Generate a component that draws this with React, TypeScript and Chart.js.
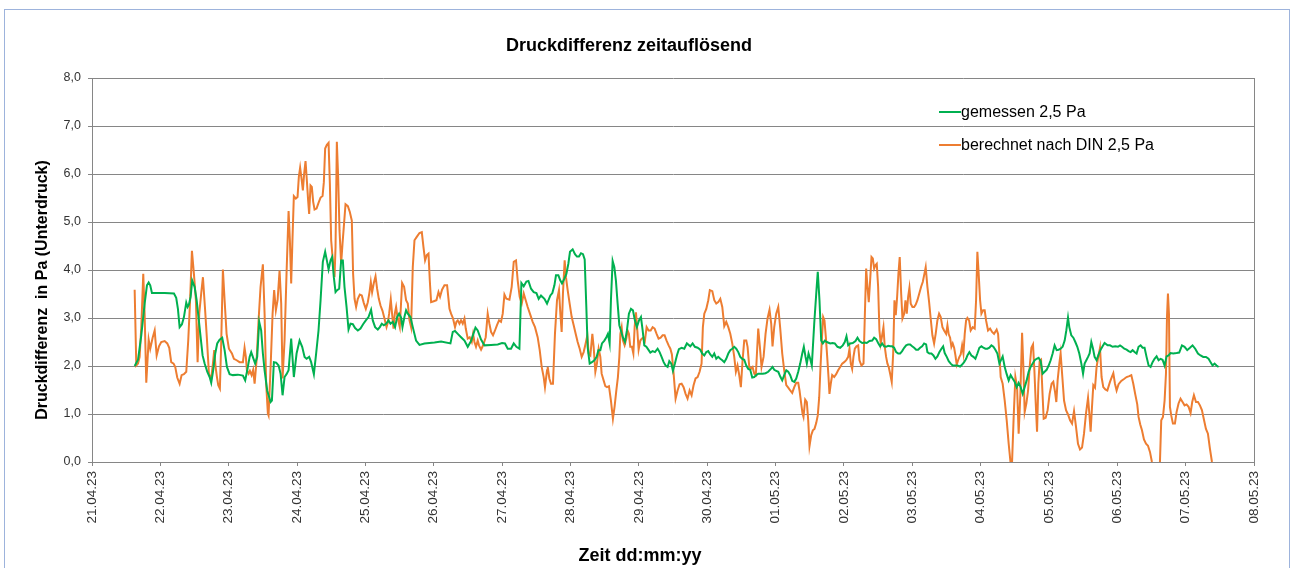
import React, { useEffect, useRef } from 'react';
import { Chart, registerables } from 'chart.js';

Chart.register(...registerables);

const FONT = "'Liberation Sans', Arial, Helvetica, sans-serif";

const chartTitle = 'Druckdifferenz zeitauflösend';
const yAxisTitle = 'Druckdifferenz  in Pa (Unterdruck)';
const xAxisTitle = 'Zeit dd:mm:yy';
const seriesNames = ['gemessen 2,5 Pa', 'berechnet nach DIN 2,5 Pa'];
const seriesColors = ['#00b050', '#ed7d31'];

const xTickLabels = [
  '21.04.23', '22.04.23', '23.04.23', '24.04.23', '25.04.23', '26.04.23',
  '27.04.23', '28.04.23', '29.04.23', '30.04.23', '01.05.23', '02.05.23',
  '03.05.23', '04.05.23', '05.05.23', '06.05.23', '07.05.23', '08.05.23',
];
const yTickLabels = ['0,0', '1,0', '2,0', '3,0', '4,0', '5,0', '6,0', '7,0', '8,0'];

// time in days since 21.04.23 00:00
const gemessenTage = [
  0.624, 0.673, 0.721, 0.770, 0.804, 0.829, 0.852, 0.877, 0.965, 1.063,
  1.199, 1.232, 1.257, 1.282, 1.316, 1.345, 1.379, 1.399, 1.418, 1.443,
  1.466, 1.501, 1.531, 1.560, 1.589, 1.618, 1.648, 1.686, 1.721, 1.744,
  1.773, 1.803, 1.832, 1.867, 1.905, 1.940, 1.974, 2.013, 2.061, 2.135,
  2.208, 2.241, 2.270, 2.306, 2.329, 2.358, 2.387, 2.417, 2.446, 2.475,
  2.500, 2.525, 2.563,
  2.613, 2.632, 2.661, 2.694, 2.730, 2.759, 2.788, 2.817, 2.846, 2.876,
  2.914, 2.953, 2.993, 3.037, 3.075, 3.110, 3.139, 3.177, 3.206, 3.246,
  3.279, 3.314, 3.344, 3.377, 3.411, 3.436, 3.461, 3.490, 3.513, 3.538,
  3.563, 3.586, 3.616, 3.645, 3.670, 3.694, 3.724, 3.753, 3.782, 3.816,
  3.849, 3.889, 3.928, 3.966, 4.006, 4.045, 4.083, 4.108, 4.142, 4.181,
  4.211, 4.240, 4.269, 4.303, 4.338, 4.367, 4.401, 4.434, 4.464, 4.493,
  4.522, 4.542, 4.572, 4.595, 4.620,
  4.659, 4.693, 4.741, 4.791, 4.864, 5.010, 5.107, 5.244, 5.278, 5.311,
  5.351, 5.399, 5.449, 5.497, 5.545, 5.610, 5.643, 5.692, 5.741, 5.838,
  5.936, 5.999, 6.042, 6.082, 6.130, 6.170, 6.209, 6.253, 6.282, 6.316,
  6.355, 6.385, 6.423, 6.462, 6.502, 6.535, 6.569, 6.619, 6.657,
  6.706, 6.735, 6.765, 6.788, 6.823, 6.852, 6.876, 6.911, 6.940, 6.969,
  6.993, 7.032, 7.066, 7.095, 7.124, 7.154, 7.183, 7.208, 7.232, 7.251,
  7.281, 7.314, 7.349, 7.383, 7.408, 7.437, 7.461, 7.496, 7.525, 7.548,
  7.573, 7.592, 7.617, 7.642, 7.665, 7.690, 7.715, 7.738, 7.768, 7.797,
  7.826, 7.855, 7.885, 7.914, 7.943, 7.972, 8.002, 8.031, 8.056, 8.080,
  8.110, 8.139, 8.168, 8.202, 8.236, 8.275, 8.304, 8.333, 8.363, 8.392,
  8.421, 8.446, 8.475, 8.499, 8.528, 8.557, 8.586, 8.626, 8.665, 8.703,
  8.753, 8.787, 8.820, 8.860, 8.899, 8.928, 8.958, 8.987, 9.016, 9.045,
  9.075, 9.104, 9.133, 9.162, 9.192, 9.221, 9.250, 9.279, 9.309, 9.338,
  9.367, 9.396, 9.425, 9.455, 9.484, 9.513, 9.542, 9.572, 9.601, 9.630,
  9.659, 9.689, 9.718, 9.747, 9.776, 9.814, 9.854, 9.893, 9.932, 9.956,
  9.981, 10.010, 10.040, 10.069, 10.098, 10.127, 10.157, 10.186, 10.215, 10.244,
  10.274, 10.303, 10.332, 10.361, 10.391, 10.414, 10.439, 10.458, 10.483, 10.507,
  10.531, 10.566, 10.599, 10.618, 10.643, 10.668, 10.692, 10.721, 10.750,
  10.800, 10.833, 10.867, 10.906, 10.946, 10.984, 11.013, 11.038, 11.063, 11.092,
  11.130, 11.170, 11.199, 11.228, 11.268, 11.306, 11.335, 11.374, 11.414, 11.443,
  11.472, 11.501, 11.531, 11.560, 11.589, 11.618, 11.648, 11.677, 11.706, 11.735,
  11.765, 11.794, 11.823, 11.852, 11.882, 11.911, 11.940, 11.969, 11.999, 12.028,
  12.057, 12.086, 12.115, 12.145, 12.174, 12.203, 12.222, 12.251, 12.281, 12.310,
  12.339, 12.368, 12.398, 12.427, 12.452, 12.475, 12.505, 12.534, 12.563, 12.592,
  12.621, 12.661, 12.700, 12.730, 12.759, 12.788,
  12.807, 12.836, 12.866, 12.895, 12.924, 12.953, 12.982, 13.012, 13.041, 13.070,
  13.099, 13.129, 13.158, 13.187, 13.216, 13.246, 13.275, 13.323, 13.353, 13.382,
  13.411, 13.440, 13.469, 13.499, 13.528, 13.557, 13.586, 13.616, 13.645, 13.674,
  13.703, 13.732, 13.762, 13.791, 13.820, 13.849, 13.879, 13.908, 13.937, 13.966,
  13.996, 14.025, 14.054, 14.083, 14.113, 14.142, 14.171, 14.200, 14.230, 14.254,
  14.279, 14.298, 14.327, 14.357, 14.386, 14.415, 14.444, 14.474, 14.499, 14.522,
  14.547, 14.572, 14.595, 14.620, 14.645, 14.668, 14.697, 14.727, 14.756, 14.785,
  14.814,
  14.858, 14.893, 14.932, 14.971, 15.010, 15.040, 15.069, 15.102, 15.136, 15.165,
  15.195, 15.224, 15.253, 15.282, 15.311, 15.341, 15.370, 15.399, 15.428, 15.458,
  15.487, 15.516, 15.545, 15.575, 15.604, 15.633, 15.662, 15.692, 15.721, 15.750,
  15.779, 15.819, 15.867, 15.906, 15.946, 15.984, 16.023, 16.063, 16.101, 16.140,
  16.180, 16.218, 16.257, 16.297, 16.335, 16.365, 16.394, 16.423, 16.452, 16.482,
];

const gemessenPa = [
  2.00, 2.13, 2.64, 3.30, 3.68, 3.74, 3.68, 3.52, 3.52, 3.52,
  3.51, 3.42, 3.19, 2.81, 2.87, 3.02, 3.32, 3.23, 3.28, 3.44,
  3.78, 3.65, 3.37, 2.99, 2.60, 2.22, 2.05, 1.88, 1.77, 1.65,
  1.91, 2.26, 2.47, 2.55, 2.59, 2.33, 1.98, 1.83, 1.81, 1.82,
  1.80, 1.70, 1.90, 2.19, 2.29, 2.17, 2.05, 2.19, 2.92, 2.74,
  2.26, 1.91, 1.49,
  1.25, 1.28, 2.08, 2.07, 2.01, 1.84, 1.39, 1.77, 1.83, 1.91,
  2.57, 1.77, 2.26, 2.53, 2.40, 2.19, 2.15, 2.19, 2.08, 1.83,
  2.26, 2.74, 3.37, 4.17, 4.38, 4.20, 4.01, 4.20, 4.27, 3.85,
  3.54, 3.58, 3.61, 4.20, 4.20, 3.65, 3.23, 2.76, 2.88, 2.87,
  2.79, 2.74, 2.78, 2.87, 2.95, 3.02, 3.17, 2.95, 2.81, 2.76,
  2.81, 2.88, 2.85, 2.88, 2.95, 2.88, 2.92, 2.81, 3.02, 3.09,
  3.01, 2.81, 3.03, 3.16, 3.09,
  3.02, 2.81, 2.53, 2.44, 2.47, 2.49, 2.51, 2.47, 2.71, 2.73,
  2.67, 2.60, 2.53, 2.40, 2.52, 2.80, 2.74, 2.55, 2.43, 2.44,
  2.45, 2.48, 2.47, 2.36, 2.36, 2.47, 2.40, 2.36, 3.73, 3.66,
  3.76, 3.77, 3.61, 3.54, 3.52, 3.40, 3.47, 3.40, 3.30,
  3.47, 3.52, 3.68, 3.89, 3.89, 3.78, 3.72, 3.82, 3.92, 4.13,
  4.38, 4.43, 4.33, 4.28, 4.28, 4.35, 4.33, 4.22, 3.23, 2.40,
  2.05, 2.08, 2.12, 2.19, 2.33, 2.33, 2.47, 2.53, 2.60, 2.67,
  2.47, 3.37, 4.19, 4.06, 3.78, 3.30, 2.85, 2.74, 2.59, 2.50,
  2.74, 3.09, 3.19, 3.16, 2.95, 2.81, 2.95, 3.02, 2.74, 2.43,
  2.40, 2.34, 2.28, 2.31, 2.29, 2.36, 2.29, 2.19, 2.08, 2.01,
  1.98, 2.10, 2.05, 1.90, 2.05, 2.22, 2.35, 2.38, 2.36, 2.47,
  2.41, 2.47, 2.40, 2.38, 2.34, 2.26, 2.22, 2.29, 2.31, 2.24,
  2.19, 2.26, 2.15, 2.19, 2.15, 2.12, 2.08, 2.15, 2.26, 2.33,
  2.36, 2.40, 2.36, 2.29, 2.19, 2.15, 2.13, 2.01, 1.94, 1.92,
  1.76, 1.77, 1.81, 1.84, 1.84, 1.84, 1.85, 1.88, 1.94, 1.98,
  1.92, 1.90, 1.88, 1.78, 1.70, 1.81, 1.91, 1.88, 1.81, 1.69,
  1.67, 1.74, 1.88, 2.05, 2.26, 2.40, 2.19, 2.05, 2.26, 2.15,
  2.01, 2.88, 3.58, 3.96, 3.37, 2.53, 2.47, 2.53, 2.50,
  2.47, 2.48, 2.47, 2.40, 2.38, 2.43, 2.50, 2.62, 2.43, 2.47,
  2.48, 2.52, 2.59, 2.52, 2.48, 2.49, 2.48, 2.52, 2.53, 2.59,
  2.56, 2.48, 2.41, 2.47, 2.41, 2.40, 2.42, 2.41, 2.41, 2.38,
  2.29, 2.26, 2.26, 2.31, 2.38, 2.43, 2.45, 2.45, 2.41, 2.38,
  2.34, 2.34, 2.38, 2.41, 2.47, 2.45, 2.29, 2.26, 2.26, 2.22,
  2.15, 2.20, 2.29, 2.36, 2.41, 2.27, 2.19, 2.10, 2.05, 2.01,
  2.01, 2.01, 1.99, 2.03, 2.08, 2.15,
  2.22, 2.29, 2.22, 2.19, 2.15, 2.26, 2.38, 2.41, 2.38, 2.36,
  2.36, 2.38, 2.43, 2.40, 2.34, 2.26, 2.05, 2.20, 1.98, 1.83,
  1.70, 1.81, 1.74, 1.67, 1.56, 1.65, 1.56, 1.42, 1.56, 1.70,
  1.88, 1.98, 2.05, 2.12, 2.15, 2.17, 2.10, 1.84, 1.88, 1.92,
  2.01, 2.12, 2.26, 2.43, 2.33, 2.34, 2.36, 2.40, 2.53, 2.74,
  3.01, 2.81, 2.64, 2.59, 2.50, 2.40, 2.26, 2.05, 1.84, 2.05,
  2.12, 2.19, 2.26, 2.50, 2.36, 2.19, 2.12, 2.24, 2.34, 2.41,
  2.48,
  2.43, 2.43, 2.40, 2.41, 2.40, 2.43, 2.40, 2.36, 2.34, 2.31,
  2.29, 2.33, 2.29, 2.26, 2.40, 2.43, 2.38, 2.38, 2.19, 2.01,
  1.98, 2.08, 2.15, 2.20, 2.12, 2.15, 2.13, 2.01, 2.20, 2.22,
  2.27, 2.26, 2.27, 2.28, 2.43, 2.40, 2.33, 2.38, 2.43, 2.36,
  2.26, 2.22, 2.19, 2.19, 2.15, 2.08, 2.01, 2.05, 2.01, 1.98,
];

const berechnetTage = [
  0.624, 0.648, 0.673, 0.697, 0.721, 0.750, 0.770, 0.794, 0.829, 0.852,
  0.887, 0.917, 0.946, 0.980, 1.013, 1.063, 1.101, 1.130, 1.159, 1.194,
  1.218, 1.247, 1.282, 1.311, 1.345, 1.379, 1.408, 1.433, 1.462, 1.491,
  1.520, 1.545, 1.569, 1.598, 1.623, 1.652, 1.681, 1.711, 1.744, 1.769,
  1.788, 1.808, 1.828, 1.847, 1.871, 1.890, 1.915, 1.940, 1.969, 2.003,
  2.047, 2.076, 2.116, 2.159, 2.208, 2.232, 2.251, 2.266, 2.291, 2.310,
  2.335, 2.358, 2.379, 2.408, 2.437, 2.466, 2.500, 2.525, 2.548, 2.573,
  2.583, 2.613, 2.642, 2.665, 2.690, 2.715, 2.744, 2.768, 2.788, 2.817,
  2.846, 2.876, 2.895, 2.914, 2.934, 2.953, 2.982, 3.007, 3.026, 3.045,
  3.066, 3.085, 3.104, 3.124, 3.143, 3.162, 3.177, 3.197, 3.216, 3.236,
  3.256, 3.285, 3.314, 3.344, 3.373, 3.392, 3.411, 3.436, 3.461, 3.480,
  3.499, 3.523, 3.548, 3.563, 3.582, 3.601, 3.621, 3.645, 3.665, 3.684,
  3.709, 3.743, 3.772, 3.801, 3.820, 3.841, 3.864, 3.889, 3.918, 3.947,
  3.977, 4.006, 4.035, 4.060, 4.079, 4.098, 4.123, 4.148, 4.171, 4.196,
  4.221, 4.250, 4.279, 4.309, 4.327, 4.347, 4.371, 4.390, 4.411, 4.430,
  4.449, 4.469, 4.503, 4.537, 4.566, 4.595, 4.620,
  4.645, 4.668, 4.693, 4.718, 4.751, 4.791, 4.825, 4.849, 4.873, 4.898,
  4.923, 4.942, 4.961, 5.000, 5.039, 5.069, 5.092, 5.121, 5.156, 5.195,
  5.230, 5.253, 5.282, 5.311, 5.332, 5.351, 5.376, 5.399, 5.424, 5.449,
  5.468, 5.497, 5.526, 5.556, 5.575, 5.595, 5.618, 5.643, 5.662, 5.692,
  5.712, 5.731, 5.760, 5.789, 5.814, 5.838, 5.867, 5.896, 5.925, 5.955,
  5.984, 6.009, 6.034, 6.063, 6.107, 6.140, 6.170, 6.203, 6.228, 6.257,
  6.287, 6.316, 6.345, 6.374, 6.414, 6.447, 6.481, 6.520, 6.550, 6.579,
  6.608, 6.627, 6.657,
  6.667, 6.691, 6.715, 6.744, 6.773, 6.803, 6.832, 6.852, 6.871, 6.890,
  6.915, 6.934, 6.959, 6.988, 7.018, 7.047, 7.076, 7.105, 7.135, 7.164,
  7.193, 7.222, 7.247, 7.266, 7.291, 7.320, 7.339, 7.364, 7.387, 7.412,
  7.437, 7.456, 7.485, 7.510, 7.534, 7.563, 7.592, 7.621, 7.646, 7.671,
  7.694, 7.715, 7.730, 7.749, 7.768, 7.792, 7.817, 7.836, 7.855, 7.875,
  7.899, 7.920, 7.939, 7.958, 7.978, 7.997, 8.022, 8.045, 8.070, 8.089,
  8.114, 8.143, 8.173, 8.202, 8.231, 8.260, 8.289, 8.319, 8.348, 8.377,
  8.406, 8.436, 8.461, 8.484, 8.509, 8.538, 8.567, 8.596, 8.626, 8.655,
  8.684, 8.713,
  8.743, 8.772, 8.801, 8.830, 8.860, 8.889, 8.918, 8.937, 8.958, 8.987,
  9.016, 9.039, 9.075, 9.104, 9.133, 9.162, 9.192, 9.221, 9.250, 9.279,
  9.309, 9.338, 9.367, 9.396, 9.420, 9.444, 9.469, 9.493, 9.518, 9.542,
  9.572, 9.591, 9.616, 9.639, 9.664, 9.689, 9.712, 9.747, 9.771, 9.795,
  9.825, 9.854, 9.883, 9.912, 9.937, 9.956, 9.981, 10.010, 10.040, 10.069,
  10.098, 10.127, 10.157, 10.186, 10.215, 10.244, 10.274, 10.303, 10.332, 10.351,
  10.370, 10.395, 10.409, 10.434, 10.458, 10.478, 10.497, 10.522, 10.546, 10.570,
  10.595, 10.618, 10.639, 10.658, 10.677, 10.697, 10.716, 10.736, 10.756,
  10.775, 10.789, 10.808, 10.829, 10.858, 10.887, 10.916, 10.946, 10.975, 11.004,
  11.034, 11.063, 11.082, 11.101, 11.121, 11.140, 11.160, 11.184, 11.209, 11.228,
  11.257, 11.287, 11.306, 11.326, 11.345, 11.364, 11.384, 11.404, 11.423, 11.443,
  11.462, 11.481, 11.501, 11.520, 11.539, 11.560, 11.579, 11.598, 11.618, 11.637,
  11.656, 11.677, 11.700, 11.721, 11.740, 11.759, 11.779, 11.798, 11.817, 11.838,
  11.857, 11.882, 11.901, 11.920, 11.940, 11.959, 11.978, 12.003, 12.028, 12.051,
  12.076, 12.105, 12.130, 12.154, 12.178, 12.197, 12.222, 12.247, 12.270, 12.295,
  12.320, 12.343, 12.368, 12.393, 12.417, 12.442, 12.466, 12.496, 12.515, 12.534,
  12.554, 12.573, 12.592, 12.613, 12.632, 12.651, 12.671, 12.690, 12.709, 12.730,
  12.749, 12.768, 12.788, 12.807,
  12.832, 12.855, 12.885, 12.914, 12.934, 12.953, 12.972, 12.993, 13.012, 13.036,
  13.060, 13.080, 13.109, 13.139, 13.168, 13.197, 13.235, 13.256, 13.275, 13.294,
  13.323, 13.353, 13.382, 13.411, 13.436, 13.461, 13.484, 13.509, 13.534, 13.557,
  13.582, 13.607, 13.626, 13.645, 13.670, 13.695, 13.718, 13.743, 13.767, 13.787,
  13.806, 13.826, 13.845, 13.864, 13.885, 13.904, 13.923, 13.952, 13.981, 14.010,
  14.039, 14.064, 14.089, 14.108, 14.127, 14.152, 14.171, 14.196, 14.221, 14.250,
  14.279, 14.309, 14.338, 14.367, 14.396, 14.425, 14.455, 14.484, 14.513, 14.542,
  14.572, 14.591, 14.610, 14.630, 14.649, 14.674, 14.697, 14.722, 14.747, 14.770,
  14.795, 14.825, 14.854,
  14.893, 14.922, 14.942, 14.966, 14.990, 15.019, 15.058, 15.098, 15.136, 15.175,
  15.205, 15.234, 15.263, 15.292, 15.311, 15.336, 15.361, 15.390, 15.420, 15.449,
  15.478, 15.507, 15.556, 15.624, 15.643, 15.668, 15.692, 15.712, 15.727, 15.741,
  15.756, 15.770, 15.789, 15.814, 15.843, 15.867, 15.896, 15.925, 15.955, 15.984,
  16.013, 16.043, 16.072, 16.096, 16.121, 16.151, 16.180, 16.209, 16.238, 16.268,
  16.297, 16.326, 16.355, 16.385,
];

const berechnetPa = [
  3.59, 2.01, 2.05, 2.19, 2.81, 3.92, 3.09, 1.65, 2.55, 2.36,
  2.59, 2.74, 2.22, 2.41, 2.50, 2.52, 2.47, 2.38, 2.08, 2.05,
  1.98, 1.76, 1.63, 1.81, 1.83, 1.88, 2.53, 3.30, 4.40, 3.92,
  3.37, 2.08, 3.09, 3.52, 3.85, 3.23, 2.57, 1.83, 1.74, 2.05,
  2.33, 1.98, 1.77, 1.60, 1.53, 2.47, 4.01, 3.37, 2.67, 2.36,
  2.26, 2.15, 2.12, 2.08, 2.08, 2.38, 2.19, 1.91, 1.84, 1.90,
  1.81, 1.92, 1.63, 2.12, 2.95, 3.65, 4.12, 3.09, 1.63, 1.01,
  0.97, 1.98, 3.09, 3.58, 3.16, 3.37, 3.99, 3.30, 1.74, 2.53,
  3.92, 5.23, 4.62, 3.72, 4.69, 5.54, 5.49, 5.52, 5.94, 6.13,
  5.90, 5.66, 6.01, 6.27, 5.87, 5.45, 5.17, 5.76, 5.73, 5.42,
  5.26, 5.28, 5.40, 5.51, 5.54, 5.83, 6.53, 6.61, 6.65, 5.80,
  4.62, 4.20, 3.85, 4.48, 6.67, 5.94, 4.83, 4.13, 4.55, 4.90,
  5.37, 5.33, 5.21, 5.03, 3.92, 3.40, 3.23, 3.40, 3.49, 3.47,
  3.31, 3.19, 3.33, 3.54, 3.75, 3.54, 3.73, 3.87, 3.61, 3.40,
  3.26, 3.15, 2.99, 2.81, 2.90, 3.09, 3.39, 3.09, 2.78, 3.09,
  3.23, 3.02, 2.81, 3.73, 3.65, 3.37, 3.30,
  2.95, 2.81, 4.06, 4.62, 4.69, 4.77, 4.79, 4.48, 4.20, 4.31,
  4.34, 3.78, 3.33, 3.35, 3.37, 3.54, 3.44, 3.59, 3.68, 3.68,
  3.19, 3.09, 2.99, 2.81, 2.92, 2.95, 2.88, 2.95, 2.88, 2.99,
  2.78, 2.57, 2.60, 2.50, 2.67, 2.50, 2.40, 2.53, 2.43, 2.34,
  2.40, 2.47, 2.60, 3.09, 2.88, 2.71, 2.64, 2.74, 2.85, 2.95,
  2.92, 3.09, 3.49, 3.40, 3.38, 3.65, 4.17, 4.20, 3.78, 3.44,
  3.30, 3.51, 3.37, 3.23, 3.06, 2.92, 2.81, 2.60, 2.33, 1.98,
  1.77, 1.56, 1.91,
  1.98, 1.74, 1.63, 1.63, 2.67, 3.37, 3.58, 3.09, 2.71, 3.51,
  4.20, 3.85, 3.58, 3.30, 3.02, 2.85, 2.67, 2.50, 2.36, 2.19,
  2.29, 2.47, 2.64, 2.26, 2.22, 2.67, 2.40, 1.88, 2.05, 2.36,
  2.19, 1.84, 1.70, 1.58, 1.56, 1.58, 1.28, 0.90, 1.16, 1.49,
  1.77, 2.19, 2.67, 2.81, 2.53, 2.43, 2.57, 2.74, 2.67, 2.40,
  2.40, 2.26, 2.81, 3.12, 2.74, 2.34, 2.53, 2.57, 2.59, 2.53,
  2.81, 2.74, 2.74, 2.81, 2.78, 2.67, 2.57, 2.59, 2.64, 2.64,
  2.53, 2.43, 2.36, 2.24, 1.84, 1.32, 1.49, 1.62, 1.63, 1.56,
  1.42, 1.32,
  1.49, 1.39, 1.60, 1.74, 1.77, 1.88, 2.05, 2.81, 3.09, 3.19,
  3.37, 3.58, 3.56, 3.37, 3.30, 3.33, 3.40, 3.23, 2.83, 2.92,
  2.81, 2.67, 2.47, 2.19, 1.88, 2.01, 1.81, 1.56, 2.12, 2.53,
  2.53, 2.40, 1.98, 1.94, 1.98, 1.84, 1.81, 2.78, 2.40, 1.98,
  2.19, 2.67, 2.99, 3.17, 2.88, 2.41, 2.81, 3.09, 3.23, 2.78,
  2.26, 1.91, 1.60, 1.55, 1.49, 1.44, 1.56, 1.65, 1.65, 1.49,
  1.28, 1.01, 0.94, 1.30, 1.25, 0.87, 0.33, 0.56, 0.66, 0.69,
  0.81, 0.97, 1.35, 1.98, 2.53, 3.02, 2.95, 2.60, 2.19,
  1.77, 1.42, 1.63, 1.81, 1.77, 1.83, 1.91, 1.98, 2.05, 2.08,
  2.12, 2.19, 2.36, 2.05, 1.94, 2.19, 2.36, 2.41, 2.43, 2.12,
  2.01, 2.05, 3.02, 4.03, 3.65, 3.33, 3.78, 4.27, 4.24, 4.03,
  4.10, 4.13, 3.65, 2.74, 2.47, 2.64, 2.81, 2.40, 2.19, 2.05,
  1.98, 1.84, 1.67, 2.26, 3.37, 3.06, 3.44, 3.92, 4.27, 3.51,
  2.99, 3.09, 3.37, 3.09, 3.44, 3.63, 3.30, 3.23, 3.23, 3.28,
  3.37, 3.52, 3.65, 3.75, 3.92, 4.06, 3.65, 3.33, 2.99, 2.64,
  2.47, 2.67, 2.95, 3.09, 3.02, 2.81, 2.74, 2.67, 2.85, 2.66,
  2.59, 2.40, 2.47, 2.38, 2.22, 2.03, 2.12, 2.19, 2.24, 2.43,
  2.26, 2.67, 2.95, 3.00,
  2.95, 2.74, 2.81, 2.78, 3.37, 4.38, 3.92, 3.37, 3.09, 3.16,
  3.16, 2.95, 2.74, 2.78, 2.71, 2.67, 2.76, 2.67, 2.26, 1.77,
  1.63, 1.28, 0.87, 0.38, 0.02, 0.02, 0.94, 1.77, 1.56, 0.59,
  1.42, 2.69, 1.98, 1.04, 1.22, 1.49, 1.98, 2.38, 2.45, 1.91,
  1.25, 0.63, 1.63, 2.10, 2.13, 1.49, 0.90, 0.92, 1.08, 1.42,
  1.63, 1.67, 1.46, 1.25, 1.70, 2.05, 2.26, 1.77, 1.28, 1.08,
  0.99, 0.87, 0.80, 1.06, 0.73, 0.38, 0.26, 0.30, 0.59, 1.01,
  1.34, 1.01, 0.63, 1.15, 1.60, 1.55, 1.98, 2.19, 2.38, 1.77,
  1.56, 1.51, 1.49,
  1.67, 1.78, 1.85, 1.63, 1.49, 1.62, 1.69, 1.73, 1.77, 1.79,
  1.81, 1.63, 1.41, 1.20, 0.94, 0.78, 0.66, 0.47, 0.38, 0.34,
  0.21, 0.00, -0.20, 0.00, 0.87, 0.94, 1.28, 1.84, 3.02, 3.51,
  3.09, 1.15, 0.97, 0.80, 0.80, 1.04, 1.22, 1.32, 1.25, 1.18,
  1.20, 1.15, 1.02, 1.25, 1.39, 1.25, 1.25, 1.18, 1.08, 0.88,
  0.69, 0.59, 0.28, 0.00,
];

const GRID = '#868686';
const TICK_COLOR = '#333333';

function zip(xs: number[], ys: number[]) {
  const n = Math.min(xs.length, ys.length);
  const out: { x: number; y: number }[] = [];
  for (let i = 0; i < n; i++) out.push({ x: xs[i], y: ys[i] });
  return out;
}

const decorPlugin = {
  id: 'excelDecor',
  afterDraw(chart: any) {
    const { ctx, chartArea } = chart;
    ctx.save();
    // right frame line of plot area
    const rx = Math.round(chartArea.right) + 0.5;
    ctx.strokeStyle = GRID;
    ctx.lineWidth = 1;
    ctx.beginPath();
    ctx.moveTo(rx, chartArea.top);
    ctx.lineTo(rx, chartArea.bottom);
    ctx.stroke();

    // titles
    ctx.fillStyle = '#000000';
    ctx.textAlign = 'center';
    ctx.textBaseline = 'alphabetic';
    ctx.font = `bold 18px ${FONT}`;
    ctx.fillText(chartTitle, 629, 51);
    ctx.fillText(xAxisTitle, 640, 561);

    ctx.save();
    ctx.translate(46.5, 290);
    ctx.rotate(-Math.PI / 2);
    ctx.font = `bold 16px ${FONT}`;
    ctx.fillText(yAxisTitle, 0, 0);
    ctx.restore();

    // legend
    const rows = [112, 145];
    ctx.font = `16px ${FONT}`;
    ctx.textAlign = 'left';
    ctx.textBaseline = 'middle';
    seriesNames.forEach((name, i) => {
      const y = rows[i];
      ctx.strokeStyle = seriesColors[i];
      ctx.lineWidth = 2;
      ctx.beginPath();
      ctx.moveTo(939, y);
      ctx.lineTo(961, y);
      ctx.stroke();
      ctx.fillStyle = '#000000';
      ctx.fillText(name, 961, y + 0.5);
    });
    ctx.restore();
  },
};

export default function App() {
  const canvasRef = useRef<HTMLCanvasElement | null>(null);

  useEffect(() => {
    if (!canvasRef.current) return;
    Chart.defaults.font.family = FONT;
    const chart = new Chart(canvasRef.current, {
      type: 'line',
      data: {
        datasets: [
          {
            label: seriesNames[0],
            data: zip(gemessenTage, gemessenPa),
            borderColor: seriesColors[0],
            backgroundColor: seriesColors[0],
            borderWidth: 2,
            pointRadius: 0,
            tension: 0,
            fill: false,
          },
          {
            label: seriesNames[1],
            data: zip(berechnetTage, berechnetPa),
            borderColor: seriesColors[1],
            backgroundColor: seriesColors[1],
            borderWidth: 2,
            pointRadius: 0,
            tension: 0,
            fill: false,
          },
        ],
      },
      options: {
        responsive: false,
        animation: false,
        events: [],
        layout: { padding: { top: 78, right: 36, left: 0, bottom: 0 } },
        plugins: {
          legend: { display: false },
          title: { display: false },
          tooltip: { enabled: false },
        },
        scales: {
          x: {
            type: 'linear',
            min: 0,
            max: 17,
            afterFit: (scale: any) => {
              scale.height = 106;
            },
            ticks: {
              stepSize: 1,
              autoSkip: false,
              maxRotation: 90,
              minRotation: 90,
              padding: 5,
              color: TICK_COLOR,
              font: { size: 13.5, family: FONT },
              callback: (v: any) => xTickLabels[Math.round(Number(v))] ?? '',
            },
            grid: {
              drawOnChartArea: false,
              drawTicks: true,
              tickLength: 4,
              color: GRID,
            },
            border: { color: GRID, width: 1 },
          },
          y: {
            type: 'linear',
            min: 0,
            max: 8,
            afterFit: (scale: any) => {
              scale.width = 92;
            },
            ticks: {
              stepSize: 1,
              padding: 7,
              color: TICK_COLOR,
              font: { size: 12.5, family: FONT },
              callback: (v: any) => yTickLabels[Math.round(Number(v))] ?? '',
            },
            grid: {
              color: GRID,
              tickLength: 4,
              drawTicks: true,
            },
            border: { color: GRID, width: 1 },
          },
        },
      },
      plugins: [decorPlugin],
    } as any);
    return () => chart.destroy();
  }, []);

  return (
    <div
      style={{
        position: 'absolute',
        left: 0,
        top: 0,
        width: 1290,
        height: 568,
        overflow: 'hidden',
        background: '#ffffff',
      }}
    >
      <canvas
        ref={canvasRef}
        width={1290}
        height={568}
        style={{ position: 'absolute', left: 0, top: 0, width: 1290, height: 568 }}
      />
      <div
        style={{
          position: 'absolute',
          left: 4,
          top: 9,
          width: 1284,
          height: 600,
          border: '1px solid #9db3dc',
          pointerEvents: 'none',
        }}
      />
    </div>
  );
}
